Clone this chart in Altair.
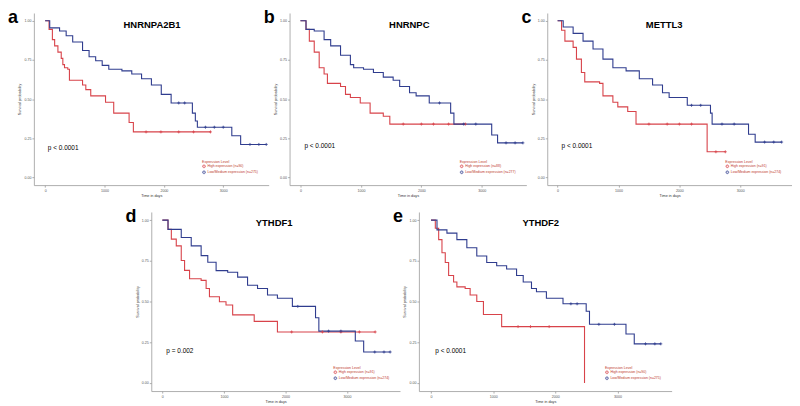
import altair as alt
import pandas as pd

RED = "#d8434a"
BLUE = "#2f3c8e"
FONT = "Liberation Sans"

letters = ["a", "b", "c", "d", "e"]
genes = ["HNRNPA2B1", "HNRNPC", "METTL3", "YTHDF1", "YTHDF2"]
pvals = ["p < 0.0001", "p < 0.0001", "p < 0.0001", "p = 0.002", "p < 0.0001"]
high_labels = ["High expression (n=90)", "High expression (n=88)", "High expression (n=91)",
               "High expression (n=91)", "High expression (n=90)"]
low_labels = ["Low/Medium expression (n=275)", "Low/Medium expression (n=277)",
              "Low/Medium expression (n=274)", "Low/Medium expression (n=274)",
              "Low/Medium expression (n=275)"]
gene_x = [1800, 1800, 1750, 1816, 1765]
gene_y = [0.975, 0.975, 0.97, 0.98, 0.98]
pval_x = [45, 65, 65, 65, 69]
pval_y = [0.19, 0.20, 0.20, 0.196, 0.196]
x_min = [-190, -180, -170, -180, -195]
x_max = [3765, 3736, 3850, 3860, 3870]
x_ticks = [0, 1000, 2000, 3000]
y_ticks = [0, 0.25, 0.5, 0.75, 1.0]

# Panel a
a_low_t = [0, 77, 243, 354, 464, 630, 740, 851, 961, 1072, 1293, 1459, 1624, 1790, 1956, 2122, 2480, 2530, 2564, 3144, 3293, 3724]
a_low_s = [1.0, 0.955, 0.935, 0.905, 0.865, 0.81, 0.77, 0.745, 0.715, 0.69, 0.68, 0.66, 0.63, 0.59, 0.53, 0.475, 0.41, 0.36, 0.32, 0.265, 0.21, 0.21]
a_high_t = [0, 66, 122, 160, 215, 271, 298, 326, 381, 409, 630, 685, 768, 1017, 1155, 1414, 1486, 2785]
a_high_s = [1.0, 0.945, 0.88, 0.84, 0.8, 0.76, 0.72, 0.7, 0.69, 0.62, 0.59, 0.56, 0.52, 0.48, 0.41, 0.35, 0.29, 0.29]
a_high_c = [1700, 1950, 2250, 2500, 2785]
a_low_c = [2250, 2350, 2700, 2850, 3000, 3450, 3600, 3724]

# Panel b
b_low_t = [0, 92, 228, 391, 500, 663, 826, 880, 1043, 1207, 1370, 1533, 1641, 1804, 1913, 2130, 2484, 2538, 3163, 3260, 3679]
b_low_s = [1.0, 0.945, 0.935, 0.88, 0.84, 0.78, 0.72, 0.70, 0.69, 0.67, 0.64, 0.62, 0.58, 0.54, 0.52, 0.475, 0.41, 0.34, 0.27, 0.22, 0.22]
b_high_t = [0, 92, 147, 228, 310, 391, 446, 663, 745, 826, 989, 1152, 1370, 1478, 2728]
b_high_s = [1.0, 0.945, 0.87, 0.80, 0.70, 0.66, 0.60, 0.58, 0.53, 0.51, 0.475, 0.41, 0.39, 0.34, 0.34]
b_high_c = [1700, 2000, 2200, 2450, 2728]
b_low_c = [2300, 2700, 2900, 3400, 3550, 3679]

# Panel c
c_low_t = [0, 92, 255, 418, 582, 745, 908, 1125, 1342, 1560, 1723, 1832, 2130, 2511, 2538, 3136, 3245, 3680]
c_low_s = [1.0, 0.96, 0.92, 0.87, 0.82, 0.755, 0.70, 0.68, 0.63, 0.59, 0.54, 0.51, 0.46, 0.41, 0.34, 0.275, 0.225, 0.225]
c_high_t = [0, 65, 120, 255, 310, 391, 446, 690, 745, 908, 989, 1152, 1288, 2456, 2755]
c_high_s = [1.0, 0.94, 0.87, 0.83, 0.755, 0.67, 0.61, 0.60, 0.52, 0.48, 0.45, 0.42, 0.34, 0.163, 0.163]
c_high_c = [1500, 1800, 2000, 2200, 2600, 2755]
c_low_c = [2200, 2350, 2700, 2900, 3400, 3550, 3680]

# Panel d
d_low_t = [0, 92, 307, 469, 630, 738, 873, 1061, 1223, 1384, 1546, 1708, 1869, 2112, 2488, 2542, 3134, 3270, 3700]
d_low_s = [1.0, 0.943, 0.893, 0.842, 0.782, 0.741, 0.69, 0.68, 0.65, 0.60, 0.58, 0.54, 0.52, 0.47, 0.40, 0.318, 0.257, 0.19, 0.19]
d_high_t = [0, 92, 146, 226, 307, 361, 442, 630, 711, 765, 927, 1034, 1142, 1492, 1869, 3457]
d_high_s = [1.0, 0.943, 0.883, 0.842, 0.752, 0.691, 0.64, 0.63, 0.58, 0.529, 0.499, 0.479, 0.418, 0.378, 0.313, 0.313]
d_high_c = [2100, 2600, 2900, 3200, 3457]
d_low_c = [2200, 2700, 2900, 3450, 3600, 3700]

# Panel e
e_low_t = [0, 96, 256, 416, 576, 736, 896, 1056, 1216, 1376, 1483, 1616, 1696, 1856, 2123, 2496, 2549, 3136, 3269, 3696]
e_low_s = [1.0, 0.94, 0.92, 0.88, 0.83, 0.78, 0.74, 0.72, 0.70, 0.66, 0.62, 0.58, 0.56, 0.52, 0.486, 0.44, 0.36, 0.30, 0.24, 0.24]
e_high_t = [0, 69, 123, 176, 229, 283, 363, 416, 549, 629, 736, 843, 1136, 2469]
e_high_s = [1.0, 0.95, 0.88, 0.80, 0.74, 0.66, 0.62, 0.59, 0.58, 0.54, 0.50, 0.42, 0.346, 0.0]
e_high_c = [1400, 1600, 1900]
e_low_c = [2250, 2350, 2700, 2950, 3450, 3600, 3696]

series = [
    (a_high_t, a_high_s, a_low_t, a_low_s, a_high_c, a_low_c),
    (b_high_t, b_high_s, b_low_t, b_low_s, b_high_c, b_low_c),
    (c_high_t, c_high_s, c_low_t, c_low_s, c_high_c, c_low_c),
    (d_high_t, d_high_s, d_low_t, d_low_s, d_high_c, d_low_c),
    (e_high_t, e_high_s, e_low_t, e_low_s, e_high_c, e_low_c),
]
widths = [236, 238, 246, 250, 254]
heights = [173, 173, 173, 180, 180]
PLUS = "M-1,0L1,0M0,-1L0,1"


def step_value(ts, ss, c):
    v = ss[0]
    for t, s in zip(ts, ss):
        if t <= c:
            v = s
    return v


def panel(i):
    ht, hs, lt, ls, hc, lc = series[i]
    rows = []
    for k, (t, s) in enumerate(zip(ht, hs)):
        rows.append({"t": t, "s": s, "group": high_labels[i], "idx": k})
    for k, (t, s) in enumerate(zip(lt, ls)):
        rows.append({"t": t, "s": s, "group": low_labels[i], "idx": k})
    df = pd.DataFrame(rows)
    crow = [{"t": c, "s": step_value(ht, hs, c), "group": high_labels[i]} for c in hc]
    crow += [{"t": c, "s": step_value(lt, ls, c), "group": low_labels[i]} for c in lc]
    cdf = pd.DataFrame(crow)

    x_enc = alt.X("t:Q", scale=alt.Scale(domain=[x_min[i], x_max[i]], nice=False, zero=False),
                  axis=alt.Axis(values=x_ticks, format="d", title="Time in days"))
    y_enc = alt.Y("s:Q", scale=alt.Scale(domain=[-0.05, 1.05], nice=False, zero=False),
                  axis=alt.Axis(values=y_ticks, format=".2f", title="Survival probability"))
    color = alt.Color("group:N",
                      scale=alt.Scale(domain=[high_labels[i], low_labels[i]], range=[RED, BLUE]),
                      legend=alt.Legend(title="Expression Level", orient="bottom-right"))

    lines = alt.Chart(df).mark_line(interpolate="step-after", strokeWidth=1.1).encode(
        x=x_enc, y=y_enc, order="idx:Q", color=color)
    cens = alt.Chart(cdf).mark_point(shape=PLUS, filled=False, size=9, strokeWidth=0.8,
                                     opacity=1).encode(x=x_enc, y=y_enc, color=color)
    gdf = pd.DataFrame({"t": [gene_x[i]], "s": [gene_y[i]], "label": [genes[i]]})
    gtext = alt.Chart(gdf).mark_text(font=FONT, fontSize=9.5, fontWeight="bold", color="black").encode(
        x=x_enc, y=y_enc, text="label:N")
    pdf = pd.DataFrame({"t": [pval_x[i]], "s": [pval_y[i]], "label": [pvals[i]]})
    ptext = alt.Chart(pdf).mark_text(font=FONT, fontSize=6.5, align="left", baseline="middle",
                                     color="black").encode(x=x_enc, y=y_enc, text="label:N")
    return alt.layer(lines, cens, gtext, ptext).properties(
        width=widths[i], height=heights[i],
        title=alt.TitleParams(letters[i], anchor="start", frame="group", orient="top",
                              fontSize=18, fontWeight="bold", font=FONT, color="black",
                              dx=-26, dy=28, offset=0, baseline="alphabetic"),
    )


spacer = alt.Chart(pd.DataFrame({"t": [0]})).mark_point(opacity=0, size=1).encode(
    x=alt.X("t:Q", axis=None, scale=alt.Scale(domain=[0, 1])),
    y=alt.Y("t:Q", axis=None, scale=alt.Scale(domain=[0, 1]))).properties(width=99, height=10)

top = alt.hconcat(panel(0), panel(1), panel(2), spacing=21, bounds="flush").resolve_scale(
    color="independent").resolve_legend(color="independent")
bottom = alt.hconcat(spacer, panel(3), panel(4), spacing=19, bounds="flush").resolve_scale(
    color="independent").resolve_legend(color="independent")

chart = alt.vconcat(top, bottom, spacing=10).resolve_scale(
    color="independent").resolve_legend(color="independent").properties(
    padding=0, background="white"
).configure_view(stroke=None).configure_axis(
    grid=False, domainColor="#9a9a9a", tickColor="#9a9a9a", tickSize=2, domainWidth=0.8,
    tickWidth=0.8, labelFontSize=3.6, titleFontSize=3.8, labelFont=FONT, titleFont=FONT,
    labelColor="#555555", titleColor="#333333", titleFontWeight="normal", labelPadding=1,
    titlePadding=2,
).configure_legend(
    titleFontSize=3.6, labelFontSize=3.5, titleFont=FONT, labelFont=FONT, titleFontWeight="normal",
    titleColor="#c0392b", labelColor="#c0392b", symbolType="cross", symbolSize=8,
    symbolStrokeWidth=0.6, rowPadding=0, titlePadding=0.5, padding=0, offset=10, labelOffset=1.5,
    labelLimit=300,
)

chart.save("out.html", embed_options={"renderer": "svg", "actions": False})
